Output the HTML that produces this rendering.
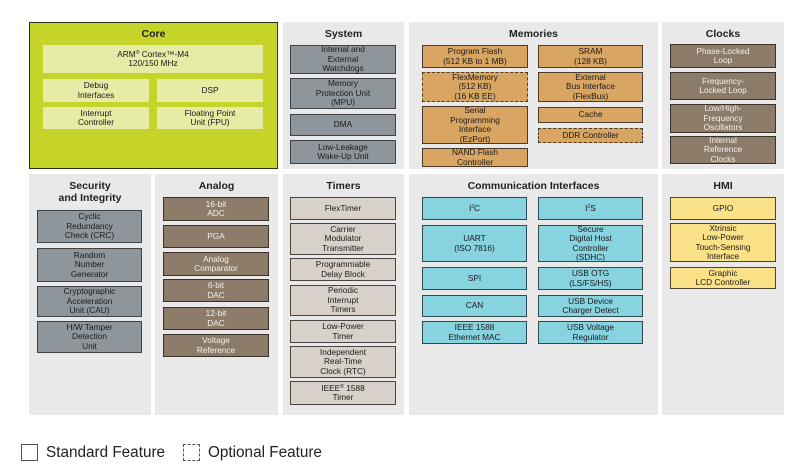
<!DOCTYPE html>
<html><head><meta charset="utf-8"><style>
body{margin:0;width:810px;height:465px;background:#fff;position:relative;overflow:hidden;font-family:"Liberation Sans",sans-serif}
.p{position:absolute;background:#e9e9e9}
.t{position:absolute;font-weight:bold;font-size:10.5px;color:#222;text-align:center;line-height:12px}
.b{position:absolute;box-sizing:border-box;display:flex;align-items:center;justify-content:center;text-align:center;font-size:8.3px;line-height:9.5px;color:#1a1a1a;border:1.5px solid #3d4247}
sup{font-size:5px;line-height:0;vertical-align:3px}
.g{background:#8e969c}
.o{background:#d9a562;border-color:#4a3a28}
.d{border-style:dashed}
.br{background:#8b7b68;border-color:#3a3128;color:#f4f0ea}
.tm{background:#d8d1ca;border-color:#4a4440}
.c{background:#87d3df;border-color:#2e4a50}
.y{background:#fbe188;border-color:#4a4430}
.lg{background:#e6eba6;border:none}
</style></head><body>
<div class="p" style="left:29px;top:22px;width:249px;height:147px;background:#c6d42a;border:1.5px solid #2e3018;box-sizing:border-box"></div>
<div class="t" style="left:29px;top:28px;width:249px">Core</div>
<div class="b lg" style="left:43px;top:45px;width:220px;height:28px"><span>ARM<sup>®</sup> Cortex™-M4<br>120/150 MHz</span></div>
<div class="b lg" style="left:43px;top:79px;width:106px;height:23px">Debug<br>Interfaces</div>
<div class="b lg" style="left:157px;top:79px;width:106px;height:23px">DSP</div>
<div class="b lg" style="left:43px;top:107px;width:106px;height:22px">Interrupt<br>Controller</div>
<div class="b lg" style="left:157px;top:107px;width:106px;height:22px">Floating Point<br>Unit (FPU)</div>

<div class="p" style="left:283px;top:22px;width:121px;height:147px"></div>
<div class="t" style="left:283px;top:28px;width:121px">System</div>
<div class="b g" style="left:290px;top:45px;width:106px;height:29px">Internal and<br>External<br>Watchdogs</div>
<div class="b g" style="left:290px;top:78px;width:106px;height:31px">Memory<br>Protection Unit<br>(MPU)</div>
<div class="b g" style="left:290px;top:114px;width:106px;height:22px">DMA</div>
<div class="b g" style="left:290px;top:140px;width:106px;height:24px">Low-Leakage<br>Wake-Up Unit</div>

<div class="p" style="left:409px;top:22px;width:249px;height:147px"></div>
<div class="t" style="left:409px;top:28px;width:249px">Memories</div>
<div class="b o" style="left:422px;top:45px;width:106px;height:23px">Program Flash<br>(512 KB to 1 MB)</div>
<div class="b o d" style="left:422px;top:72px;width:106px;height:30px">FlexMemory<br>(512 KB)<br>(16 KB EE)</div>
<div class="b o" style="left:422px;top:106px;width:106px;height:38px">Serial<br>Programming<br>Interface<br>(EzPort)</div>
<div class="b o" style="left:422px;top:148px;width:106px;height:19px">NAND Flash<br>Controller</div>
<div class="b o" style="left:538px;top:45px;width:105px;height:23px">SRAM<br>(128 KB)</div>
<div class="b o" style="left:538px;top:72px;width:105px;height:30px">External<br>Bus Interface<br>(FlexBus)</div>
<div class="b o" style="left:538px;top:107px;width:105px;height:16px">Cache</div>
<div class="b o d" style="left:538px;top:128px;width:105px;height:15px">DDR Controller</div>

<div class="p" style="left:662px;top:22px;width:122px;height:147px"></div>
<div class="t" style="left:662px;top:28px;width:122px">Clocks</div>
<div class="b br" style="left:670px;top:44px;width:106px;height:24px">Phase-Locked<br>Loop</div>
<div class="b br" style="left:670px;top:72px;width:106px;height:28px">Frequency-<br>Locked Loop</div>
<div class="b br" style="left:670px;top:104px;width:106px;height:29px">Low/High-<br>Frequency<br>Oscillators</div>
<div class="b br" style="left:670px;top:136px;width:106px;height:28px">Internal<br>Reference<br>Clocks</div>

<div class="p" style="left:29px;top:174px;width:122px;height:241px"></div>
<div class="t" style="left:29px;top:180px;width:122px">Security<br>and Integrity</div>
<div class="b g" style="left:37px;top:210px;width:105px;height:33px">Cyclic<br>Redundancy<br>Check (CRC)</div>
<div class="b g" style="left:37px;top:248px;width:105px;height:34px">Random<br>Number<br>Generator</div>
<div class="b g" style="left:37px;top:286px;width:105px;height:31px">Cryptographic<br>Acceleration<br>Unit (CAU)</div>
<div class="b g" style="left:37px;top:321px;width:105px;height:32px">H/W Tamper<br>Detection<br>Unit</div>

<div class="p" style="left:155px;top:174px;width:123px;height:241px"></div>
<div class="t" style="left:155px;top:180px;width:123px">Analog</div>
<div class="b br" style="left:163px;top:197px;width:106px;height:24px">16-bit<br>ADC</div>
<div class="b br" style="left:163px;top:225px;width:106px;height:23px">PGA</div>
<div class="b br" style="left:163px;top:252px;width:106px;height:24px">Analog<br>Comparator</div>
<div class="b br" style="left:163px;top:279px;width:106px;height:23px">6-bit<br>DAC</div>
<div class="b br" style="left:163px;top:307px;width:106px;height:23px">12-bit<br>DAC</div>
<div class="b br" style="left:163px;top:334px;width:106px;height:23px">Voltage<br>Reference</div>

<div class="p" style="left:283px;top:174px;width:121px;height:241px"></div>
<div class="t" style="left:283px;top:180px;width:121px">Timers</div>
<div class="b tm" style="left:290px;top:197px;width:106px;height:23px">FlexTimer</div>
<div class="b tm" style="left:290px;top:223px;width:106px;height:32px">Carrier<br>Modulator<br>Transmitter</div>
<div class="b tm" style="left:290px;top:258px;width:106px;height:23px">Programmable<br>Delay Block</div>
<div class="b tm" style="left:290px;top:285px;width:106px;height:31px">Periodic<br>Interrupt<br>Timers</div>
<div class="b tm" style="left:290px;top:320px;width:106px;height:23px">Low-Power<br>Timer</div>
<div class="b tm" style="left:290px;top:346px;width:106px;height:32px">Independent<br>Real-Time<br>Clock (RTC)</div>
<div class="b tm" style="left:290px;top:381px;width:106px;height:24px"><span>IEEE<sup>®</sup> 1588<br>Timer</span></div>

<div class="p" style="left:409px;top:174px;width:249px;height:241px"></div>
<div class="t" style="left:409px;top:180px;width:249px">Communication Interfaces</div>
<div class="b c" style="left:422px;top:197px;width:105px;height:23px"><span>I<sup>2</sup>C</span></div>
<div class="b c" style="left:422px;top:225px;width:105px;height:37px">UART<br>(ISO 7816)</div>
<div class="b c" style="left:422px;top:267px;width:105px;height:23px">SPI</div>
<div class="b c" style="left:422px;top:295px;width:105px;height:22px">CAN</div>
<div class="b c" style="left:422px;top:321px;width:105px;height:23px">IEEE 1588<br>Ethernet MAC</div>
<div class="b c" style="left:538px;top:197px;width:105px;height:23px"><span>I<sup>2</sup>S</span></div>
<div class="b c" style="left:538px;top:225px;width:105px;height:37px">Secure<br>Digital Host<br>Controller<br>(SDHC)</div>
<div class="b c" style="left:538px;top:267px;width:105px;height:23px">USB OTG<br>(LS/FS/HS)</div>
<div class="b c" style="left:538px;top:295px;width:105px;height:22px">USB Device<br>Charger Detect</div>
<div class="b c" style="left:538px;top:321px;width:105px;height:23px">USB Voltage<br>Regulator</div>

<div class="p" style="left:662px;top:174px;width:122px;height:241px"></div>
<div class="t" style="left:662px;top:180px;width:122px">HMI</div>
<div class="b y" style="left:670px;top:197px;width:106px;height:23px">GPIO</div>
<div class="b y" style="left:670px;top:223px;width:106px;height:39px">Xtrinsic<br>Low-Power<br>Touch-Sensing<br>Interface</div>
<div class="b y" style="left:670px;top:267px;width:106px;height:22px">Graphic<br>LCD Controller</div>

<div style="position:absolute;left:21px;top:444px;width:17px;height:17px;border:1.5px solid #555;box-sizing:border-box"></div>
<div style="position:absolute;left:46px;top:444px;font-size:15.3px;color:#222">Standard Feature</div>
<div style="position:absolute;left:183px;top:444px;width:17px;height:17px;border:1.5px dashed #555;box-sizing:border-box"></div>
<div style="position:absolute;left:208px;top:444px;font-size:15.3px;color:#222">Optional Feature</div>
</body></html>
